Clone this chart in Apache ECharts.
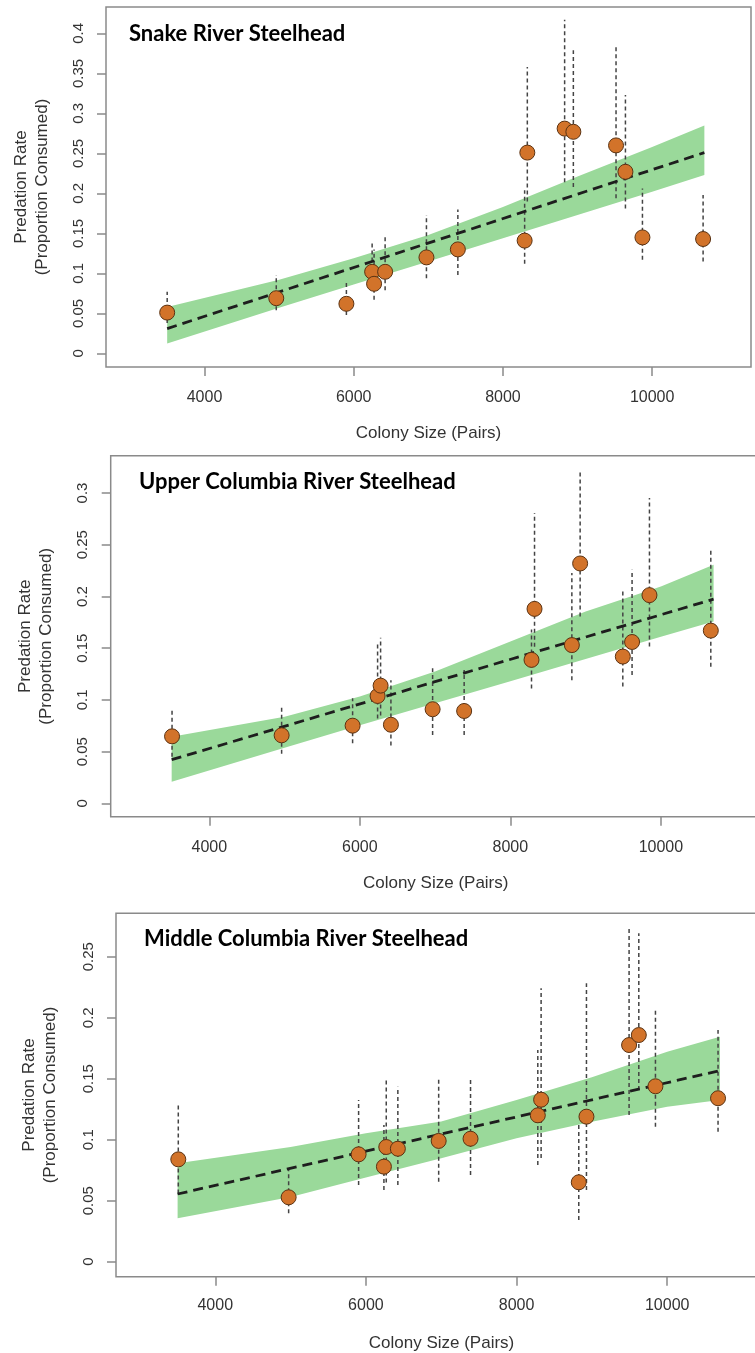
<!DOCTYPE html>
<html>
<head>
    <meta charset="UTF-8">
    <title>Predation rate vs colony size</title>
    <script src="https://cdn.jsdelivr.net/npm/echarts@6/dist/echarts.min.js"></script>
    <style>
        html, body { margin: 0; padding: 0; background: #fff; }
        #chart { width: 755px; height: 1353px; }
    </style>
</head>
<body>
<div id="chart"></div>
<script type="text/javascript">
    // ---- data ----
    var titles = ['Snake River Steelhead', 'Upper Columbia River Steelhead', 'Middle Columbia River Steelhead'];
    var xTicks = [4000, 6000, 8000, 10000];
    var yTicksSnake = [0, 0.05, 0.1, 0.15, 0.2, 0.25, 0.3, 0.35, 0.4];
    var yTicksUpper = [0, 0.05, 0.1, 0.15, 0.2, 0.25, 0.3];
    var yTicksMiddle = [0, 0.05, 0.1, 0.15, 0.2, 0.25];

    // fitted line end points and confidence band
    var fitX = [3500, 10700];
    var bandX = [3500, 5000, 6000, 7000, 8000, 9000, 10000, 10700];

    // Snake River
    var snakeX = [3500, 4962, 5902, 6247, 6273, 6421, 6975, 7396, 8291, 8327, 8827, 8944, 9516, 9642, 9870, 10683];
    var snakeY = [0.051, 0.069, 0.062, 0.102, 0.087, 0.102, 0.120, 0.130, 0.141, 0.251, 0.281, 0.277, 0.260, 0.227, 0.145, 0.143];
    var snakeLo = [0.038, 0.054, 0.048, 0.080, 0.067, 0.079, 0.094, 0.098, 0.112, 0.190, 0.214, 0.208, 0.194, 0.181, 0.117, 0.115];
    var snakeHi = [0.077, 0.098, 0.090, 0.138, 0.130, 0.148, 0.173, 0.180, 0.204, 0.358, 0.417, 0.379, 0.385, 0.323, 0.206, 0.198];
    var snakeFit = [0.031, 0.251];
    var snakeUpper = [0.058, 0.092, 0.119, 0.148, 0.183, 0.221, 0.258, 0.285];
    var snakeLower = [0.0125, 0.057, 0.086, 0.115, 0.144, 0.173, 0.202, 0.223];

    // Upper Columbia River
    var upperX = [3505, 4961, 5904, 6236, 6276, 6413, 6967, 7386, 8281, 8321, 8817, 8927, 9494, 9617, 9848, 10663];
    var upperY = [0.0648, 0.0658, 0.0751, 0.1038, 0.1138, 0.076, 0.091, 0.0893, 0.1387, 0.188, 0.153, 0.2319, 0.1419, 0.156, 0.2013, 0.167];
    var upperLo = [0.045, 0.048, 0.058, 0.082, 0.085, 0.056, 0.066, 0.066, 0.111, 0.1515, 0.119, 0.1806, 0.1129, 0.1242, 0.1516, 0.132];
    var upperHi = [0.092, 0.0935, 0.1016, 0.155, 0.160, 0.119, 0.1306, 0.129, 0.168, 0.2806, 0.2226, 0.3225, 0.2048, 0.2258, 0.2952, 0.2452];
    var upperFit = [0.0422, 0.1974];
    var upperUpper = [0.0645, 0.0838, 0.1032, 0.1274, 0.1564, 0.1854, 0.2096, 0.2306];
    var upperLower = [0.0209, 0.0538, 0.0755, 0.0968, 0.118, 0.1396, 0.161, 0.1757];

    // Middle Columbia River
    var middleX = [3509, 4974, 5903, 6239, 6270, 6424, 6966, 7389, 8282, 8326, 8826, 8928, 9494, 9623, 9844, 10675];
    var middleY = [0.0839, 0.0528, 0.088, 0.0779, 0.094, 0.0926, 0.099, 0.1008, 0.12, 0.1328, 0.0651, 0.1189, 0.1776, 0.1858, 0.1438, 0.134];
    var middleLo = [0.056, 0.0397, 0.0629, 0.0588, 0.065, 0.0629, 0.0656, 0.0711, 0.0793, 0.085, 0.0342, 0.0588, 0.1202, 0.1407, 0.1107, 0.1066];
    var middleHi = [0.1284, 0.0766, 0.1325, 0.112, 0.1503, 0.1434, 0.1503, 0.1503, 0.1735, 0.2241, 0.1134, 0.2282, 0.2746, 0.2692, 0.2077, 0.19];
    var middleFit = [0.0555, 0.1566];
    var middleUpper = [0.0807, 0.094, 0.1052, 0.115, 0.1325, 0.1511, 0.1721, 0.1844];
    var middleLower = [0.0356, 0.053, 0.069, 0.0848, 0.1011, 0.1148, 0.127, 0.1325];

    var panels = [
        {x: snakeX, y: snakeY, lo: snakeLo, hi: snakeHi, fit: snakeFit, up: snakeUpper, low: snakeLower, ticks: yTicksSnake},
        {x: upperX, y: upperY, lo: upperLo, hi: upperHi, fit: upperFit, up: upperUpper, low: upperLower, ticks: yTicksUpper},
        {x: middleX, y: middleY, lo: middleLo, hi: middleHi, fit: middleFit, up: middleUpper, low: middleLower, ticks: yTicksMiddle}
    ];

    // ---- layout ----
    var grids = [
        {left: 106, top: 7, width: 645, height: 360},
        {left: 110.7, top: 455.8, width: 650, height: 361},
        {left: 116, top: 913.3, width: 651, height: 363.4}
    ];
    var xRanges = [[2680, 11325], [2690, 11326], [2682, 11325]];
    var yRanges = [[-0.017, 0.433], [-0.013, 0.336], [-0.0123, 0.2856]];
    var yNameGaps = [53, 54, 55];
    var xLabelMargins = [23, 23, 21];
    var titlePos = [[129, 22], [139, 470], [144, 927]];

    var axisFont = 'Liberation Sans, Arial, sans-serif';
    var frameColor = '#8a8a8a';
    var textColor = '#333';

    var chartDom = document.getElementById('chart');
    var myChart = echarts.init(chartDom);

    var option = {
        animation: false,
        title: [],
        grid: [],
        xAxis: [],
        yAxis: [],
        series: []
    };

    panels.forEach(function (p, i) {
        option.title.push({
            text: titles[i],
            left: titlePos[i][0],
            top: titlePos[i][1],
            padding: 0,
            textStyle: {fontFamily: 'Lato', fontWeight: 'bold', fontSize: 22, lineHeight: 24, color: '#000'}
        });
        option.grid.push({
            left: grids[i].left,
            top: grids[i].top,
            width: grids[i].width,
            height: grids[i].height,
            outerBoundsMode: 'none',
            containLabel: false,
            show: true,
            borderColor: frameColor,
            borderWidth: 1.5,
            backgroundColor: 'transparent'
        });
        option.xAxis.push({
            type: 'value',
            gridIndex: i,
            min: xRanges[i][0],
            max: xRanges[i][1],
            name: 'Colony Size (Pairs)',
            nameLocation: 'middle',
            nameGap: 58,
            nameTextStyle: {fontFamily: axisFont, fontSize: 17, color: textColor},
            axisLine: {show: false, onZero: false},
            axisTick: {show: true, length: 9, customValues: xTicks, lineStyle: {color: frameColor, width: 1.5}},
            axisLabel: {
                customValues: xTicks,
                margin: xLabelMargins[i],
                fontFamily: axisFont,
                fontSize: 16,
                color: textColor,
                formatter: function (v) { return String(v); }
            },
            splitLine: {show: false}
        });
        option.yAxis.push({
            type: 'value',
            gridIndex: i,
            min: yRanges[i][0],
            max: yRanges[i][1],
            name: 'Predation Rate\n(Proportion Consumed)',
            nameLocation: 'middle',
            nameRotate: 90,
            nameGap: yNameGaps[i],
            nameTextStyle: {fontFamily: axisFont, fontSize: 17, lineHeight: 21, color: textColor, align: 'center'},
            axisLine: {show: false, onZero: false},
            axisTick: {show: true, length: 9, customValues: p.ticks, lineStyle: {color: frameColor, width: 1.5}},
            axisLabel: {customValues: p.ticks, rotate: 90, margin: 20, fontFamily: axisFont, fontSize: 15, color: textColor},
            splitLine: {show: false}
        });

        // confidence band
        var bandData = bandX.map(function (x, k) { return [x, p.low[k], p.up[k]]; });
        option.series.push({
            type: 'custom',
            xAxisIndex: i,
            yAxisIndex: i,
            z: 1,
            silent: true,
            data: bandData,
            renderItem: function (params, api) {
                if (params.dataIndex !== 0) return null;
                var pts = [];
                bandData.forEach(function (d) { pts.push(api.coord([d[0], d[2]])); });
                for (var k = bandData.length - 1; k >= 0; k--) {
                    pts.push(api.coord([bandData[k][0], bandData[k][1]]));
                }
                return {type: 'polygon', shape: {points: pts}, style: {fill: '#9ad99a', stroke: null}};
            }
        });

        // error bars
        option.series.push({
            type: 'custom',
            xAxisIndex: i,
            yAxisIndex: i,
            z: 2,
            silent: true,
            data: p.x.map(function (x, k) { return [x, p.lo[k], p.hi[k]]; }),
            renderItem: function (params, api) {
                var a = api.coord([api.value(0), api.value(1)]);
                var b = api.coord([api.value(0), api.value(2)]);
                return {
                    type: 'line',
                    shape: {x1: a[0], y1: a[1], x2: b[0], y2: b[1]},
                    style: {stroke: '#444', lineWidth: 1.5, lineDash: [4, 3]}
                };
            }
        });

        // fitted line
        option.series.push({
            type: 'line',
            xAxisIndex: i,
            yAxisIndex: i,
            z: 3,
            symbol: 'none',
            silent: true,
            data: fitX.map(function (x, k) { return [x, p.fit[k]]; }),
            lineStyle: {color: '#1e1e1e', width: 2.8, type: [10, 6]}
        });

        // points
        option.series.push({
            type: 'scatter',
            xAxisIndex: i,
            yAxisIndex: i,
            z: 4,
            symbolSize: 15,
            data: p.x.map(function (x, k) { return [x, p.y[k]]; }),
            itemStyle: {color: '#d2732a', borderColor: '#5a3212', borderWidth: 1, opacity: 1}
        });
    });

    option && myChart.setOption(option);
</script>
</body>
</html>
